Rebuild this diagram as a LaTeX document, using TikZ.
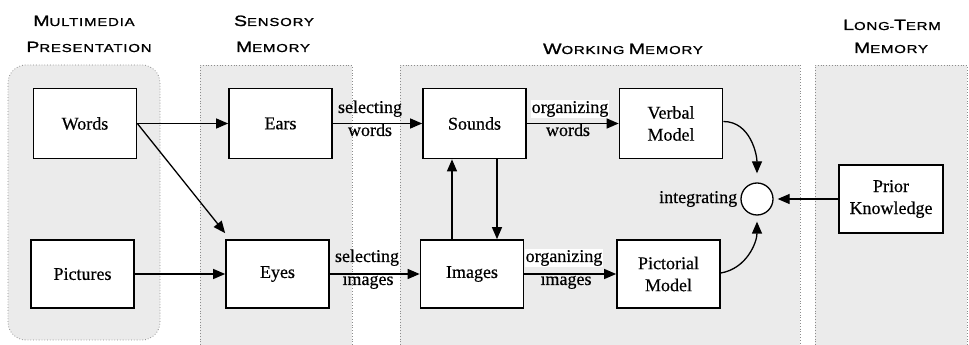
\documentclass[tikz,border=0pt]{standalone}
\usepackage{fontspec}
\setmainfont[FakeBold=0.4]{Liberation Serif}
\newfontfamily\hdrfont[FakeStretch=1.3,LetterSpace=7,FakeBold=1.2]{Liberation Sans}
\usetikzlibrary{arrows.meta,calc}
\newcommand{\smc}[2]{{\fontsize{15}{15}\selectfont #1}{\fontsize{11.5}{11.5}\selectfont #2}}
\begin{document}
\begin{tikzpicture}[x=1pt,y=1pt,
  panel/.style={fill=black!8, draw=black!45, dotted, line width=0.8pt},
  box/.style={draw, line width=1.7pt, fill=white, minimum width=103pt, minimum height=70pt,
    inner sep=0pt, align=center, font=\fontsize{18}{22}\selectfont},
  arr/.style={line width=1.3pt, -{Triangle[length=12pt,width=10pt]}},
  lbl/.style={font=\fontsize{18}{22}\selectfont, inner sep=0pt, anchor=base},
  wlbl/.style={lbl, fill=white, inner sep=1pt},
  hdr/.style={font=\hdrfont, anchor=base, inner sep=0pt}]
\useasboundingbox (0,0) rectangle (969,345);

% panels
\draw[panel, rounded corners=18pt] (8,5) rectangle (160,280);
\draw[panel] (200,0) rectangle (352,280);
\draw[panel] (400,0) rectangle (800,280);
\draw[panel] (815,0) rectangle (967,280);

% headers
\node[hdr] (h1a) at (84,319) {\smc{M}{ULTIMEDIA}};
\node[hdr] (h1b) at (89,293) {\smc{P}{RESENTATION}};
\node[hdr] (h2a) at (274,319) {\smc{S}{ENSORY}};
\node[hdr] (h2b) at (273,293) {\smc{M}{EMORY}};
\node[hdr] (h3)  at (623,291) {\smc{W}{ORKING} \smc{M}{EMORY}};
\node[hdr] (h4a) at (892,315) {\smc{L}{ONG}-\smc{T}{ERM}};
\node[hdr] (h4b) at (891,292) {\smc{M}{EMORY}};

% boxes
\node[box] (words)     at (85,221.5)    {Words};
\node[box] (ears)      at (280.5,221.5) {Ears};
\node[box] (sounds)    at (474.5,221.5) {Sounds};
\node[box] (verbal)    at (671,221.5)   {Verbal\\Model};
\node[box, minimum height=68pt] (pictures)  at (82.5,71)  {Pictures};
\node[box, minimum height=68pt] (eyes)      at (277.5,71) {Eyes};
\node[box, minimum height=68pt] (images)    at (472,71)   {Images};
\node[box, minimum height=68pt] (pictorial) at (668.5,71) {Pictorial\\Model};
\node[box, minimum height=68pt, minimum width=104pt] (prior) at (891,146) {Prior\\Knowledge};
\node[circle, draw, line width=1.3pt, minimum size=32pt, fill=white, inner sep=0pt] (circ) at (757,146) {};

% arrows
\draw[arr] (words.east) -- (ears.west);
\draw[arr] (words.east) -- ($(eyes.north west)+(0,6)$);
\draw[arr] (pictures.east) -- (eyes.west);
\draw[arr] (ears.east) -- (sounds.west);
\draw[arr] (eyes.east) -- (images.west);
\draw[arr] (sounds.east) -- (verbal.west);
\draw[arr] (images.east) -- (pictorial.west);
\draw[arr] ($(sounds.south)+(22.5,0)$) -- ($(images.north)+(25,0)$);
\draw[arr] ($(images.north)+(-20,0)$) -- ($(sounds.south)+(-22.5,0)$);
\draw[arr, shorten >=9pt] ($(verbal.east)+(0,2)$) to[out=0,in=90] (circ.north);
\draw[arr, shorten >=6pt] ($(pictorial.east)+(0,1)$) to[out=10,in=-90] (circ.south);
\draw[arr, shorten >=4pt] (prior.west) -- (circ.east);

% labels
\node[lbl] (l1a) at (370,232) {selecting};
\node[lbl] (l1b) at (370,209) {words};
\node[wlbl] (l2a) at (570,232) {organizing};
\node[lbl] (l2b) at (568,209) {words};
\node[lbl] (l3a) at (367,83) {selecting};
\node[lbl] (l3b) at (368,60) {images};
\node[wlbl] (l4a) at (564,83) {organizing};
\node[lbl] (l4b) at (566,60) {images};
\node[lbl, anchor=east] (l5) at ($(circ.west)+(-3,0)$) {integrating};
\end{tikzpicture}
\end{document}
